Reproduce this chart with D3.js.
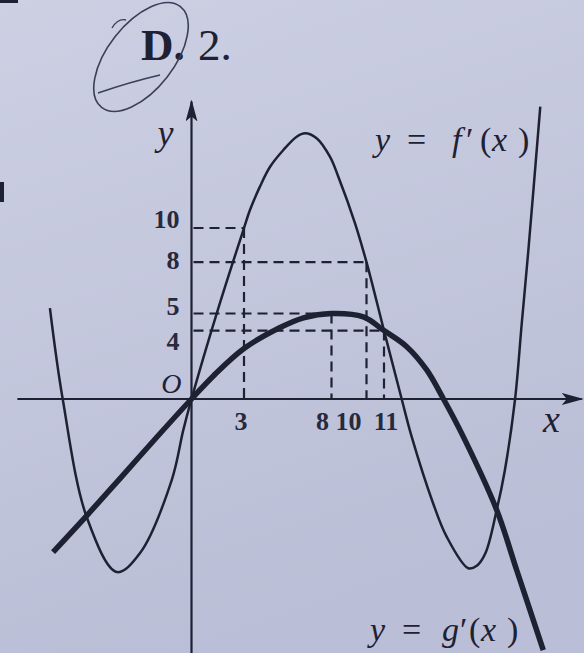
<!DOCTYPE html>
<html>
<head>
<meta charset="utf-8">
<script src="https://cdn.jsdelivr.net/npm/d3@7"></script>
<style>
  html, body { margin: 0; padding: 0; background: #c8cbdd; }
  svg { display: block; }
</style>
</head>
<body>
<div id="chart"></div>
<script>
// values (x, y in graph units)
var fPrimeX = [-8.09, -7.36, -5.97, -4.26, -2.94, -1.13, -0.47, 0, 1.5, 3, 3.34, 3.91, 4.49, 5.25, 6.01, 6.49, 7.15, 7.91, 8.39, 9.34, 10, 11, 12.01, 12.58, 13.8, 14.58, 15.82, 16.3, 16.8, 17.44, 17.91, 18.49, 18.87, 19.25, 19.93];
var fPrimeY = [5.32, 0, -6.96, -10.12, -9.01, -4.74, -1.82, 0, 5.2, 10, 11.05, 12.42, 13.58, 14.56, 15.34, 15.54, 15.25, 14.17, 13.0, 10.29, 8, 4, 0, -2.2, -6.08, -8.05, -9.9, -9.75, -9.0, -6.49, -4.15, 0, 4.4, 8.7, 17.1];

var gPrimeX = [-7.91, -5.97, -4, -2, 0, 1.25, 3, 5, 6.4, 8, 9.82, 11, 12.3, 13.44, 14.4, 15.53, 17.44, 18.58, 20.1];
var gPrimeY = [-8.95, -6.8, -4.55, -2.25, 0, 1.35, 2.95, 4.15, 4.75, 5, 4.8, 4, 3.06, 1.7, 0, -2.2, -6.49, -10, -14.68];

// dashed guides: point on the curves projected to both axes
var guideX = [3, 10, 8, 11];
var guideY = [10, 8, 5, 4];

var yTickLabels = ["10", "8", "5", "4"];
var yTickValues = [10, 8, 5, 4];
var xTickLabels = ["3", "8", "10", "11"];
var xTickValues = [3, 8, 10, 11];

var width = 584, height = 653;
var ink = "#1e2132";

var svg = d3.select("#chart").append("svg")
    .attr("width", width)
    .attr("height", height);

// paper background, a bit lighter on top like the photo
var defs = svg.append("defs");
var grad = defs.append("linearGradient")
    .attr("id", "paper").attr("x1", 0).attr("y1", 0).attr("x2", 0.3).attr("y2", 1);
grad.append("stop").attr("offset", "0%").attr("stop-color", "#cdd0e3");
grad.append("stop").attr("offset", "100%").attr("stop-color", "#babed6");
svg.append("rect").attr("width", width).attr("height", height).attr("fill", "url(#paper)");

// scales: 17.5 px per unit across, 17.1 px per unit up
var x = d3.scaleLinear().domain([-10, 22]).range([16.5, 576.5]);
var y = d3.scaleLinear().domain([-15, 20]).range([655.5, 57]);

// arrow markers
defs.append("marker")
    .attr("id", "arrow")
    .attr("viewBox", "0 0 22 12")
    .attr("refX", 20).attr("refY", 6)
    .attr("markerWidth", 22).attr("markerHeight", 12)
    .attr("markerUnits", "userSpaceOnUse")
    .attr("orient", "auto")
    .append("path")
    .attr("d", "M0,0 L22,6 L0,12 L5,6 Z")
    .attr("fill", ink);

// x axis and y axis
svg.append("line")
    .attr("x1", x(-9.95)).attr("y1", y(0))
    .attr("x2", x(22.3)).attr("y2", y(0))
    .attr("stroke", ink).attr("stroke-width", 2.2)
    .attr("marker-end", "url(#arrow)");

svg.append("line")
    .attr("x1", x(0)).attr("y1", y(-15.5))
    .attr("x2", x(0)).attr("y2", y(17.4))
    .attr("stroke", ink).attr("stroke-width", 2.2)
    .attr("marker-end", "url(#arrow)");

// dashed guides
var guides = svg.append("g")
    .attr("stroke", ink)
    .attr("stroke-width", 2.2)
    .attr("stroke-dasharray", "10,6")
    .attr("fill", "none");

guideX.forEach(function(gx, i) {
    var gy = guideY[i];
    guides.append("line")
        .attr("x1", x(0) + 2).attr("y1", y(gy))
        .attr("x2", x(gx)).attr("y2", y(gy));
    guides.append("line")
        .attr("x1", x(gx)).attr("y1", y(gy))
        .attr("x2", x(gx)).attr("y2", y(0));
});

// curves
var line = d3.line()
    .x(function(d) { return x(d[0]); })
    .y(function(d) { return y(d[1]); })
    .curve(d3.curveCatmullRom.alpha(0.5));

var fData = fPrimeX.map(function(v, i) { return [v, fPrimeY[i]]; });
var gData = gPrimeX.map(function(v, i) { return [v, gPrimeY[i]]; });

svg.append("path")
    .datum(fData)
    .attr("d", line)
    .attr("fill", "none")
    .attr("stroke", ink)
    .attr("stroke-width", 2.5);

svg.append("path")
    .datum(gData)
    .attr("d", line)
    .attr("fill", "none")
    .attr("stroke", ink)
    .attr("stroke-width", 5.5)
    .attr("stroke-linecap", "butt");

// tick labels (shifted a little off the dashed lines, as printed)
var serif = "'Liberation Serif', 'DejaVu Serif', serif";
var yLabelShift = [-9, -2, -8, 10];
svg.selectAll(".ytick")
    .data(yTickValues)
    .enter().append("text")
    .attr("class", "ytick")
    .attr("x", x(0) - 12)
    .attr("y", function(d, i) { return y(d) + yLabelShift[i]; })
    .attr("dy", "0.35em")
    .attr("text-anchor", "end")
    .style("font-family", serif)
    .style("font-weight", "bold")
    .style("font-size", "26px")
    .style("fill", "#262a3c")
    .text(function(d, i) { return yTickLabels[i]; });

var xLabelShift = [-3, -9, -18, 2];
svg.selectAll(".xtick")
    .data(xTickValues)
    .enter().append("text")
    .attr("class", "xtick")
    .attr("x", function(d, i) { return x(d) + xLabelShift[i]; })
    .attr("y", y(0) + 31)
    .attr("text-anchor", "middle")
    .style("font-family", serif)
    .style("font-weight", "bold")
    .style("font-size", "26px")
    .style("fill", "#262a3c")
    .text(function(d, i) { return xTickLabels[i]; });

// origin and axis names
svg.append("text")
    .attr("x", x(0) - 10).attr("y", y(0) - 6)
    .attr("text-anchor", "end")
    .style("font-family", serif).style("font-style", "italic")
    .style("font-size", "28px").style("fill", ink)
    .text("O");

svg.append("text")
    .attr("x", x(0) - 18).attr("y", y(0) - 254)
    .attr("text-anchor", "end")
    .style("font-family", serif).style("font-style", "italic")
    .style("font-size", "36px").style("fill", ink)
    .text("y");

svg.append("text")
    .attr("x", 543).attr("y", y(0) + 33)
    .style("font-family", serif).style("font-style", "italic")
    .style("font-size", "38px").style("fill", ink)
    .text("x");

// curve names, glyphs placed where the printed ones sit
function curveLabel(parts, left, baseline) {
    var t = svg.append("text")
        .attr("y", baseline)
        .style("font-family", serif)
        .style("font-size", "34px")
        .style("fill", ink);
    parts.forEach(function(p) {
        t.append("tspan")
            .attr("x", left + p[1])
            .style("font-style", p[2] ? "italic" : "normal")
            .text(p[0]);
    });
}

curveLabel([["y", 0, 1], ["=", 32, 0], ["f", 77, 1], ["\u2032", 91, 0], ["(", 105, 0], ["x", 117, 1], [")", 143, 0]], 375, 151);
curveLabel([["y", 0, 1], ["=", 32, 0], ["g", 72, 1], ["\u2032", 90, 0], ["(", 99, 0], ["x", 111, 1], [")", 137, 0]], 370, 641);

// answer header: "D. 2." with the pen circle around D
svg.append("text")
    .attr("x", 141).attr("y", 60)
    .style("font-family", serif).style("font-weight", "bold")
    .style("font-size", "45px").style("fill", ink)
    .text("D.");

svg.append("text")
    .attr("x", 198).attr("y", 60)
    .style("font-family", serif)
    .style("font-size", "45px").style("fill", ink)
    .text("2.");

var pen = "#3b3f58";
svg.append("ellipse")
    .attr("cx", 141).attr("cy", 57)
    .attr("rx", 64).attr("ry", 33)
    .attr("transform", "rotate(-52 141 57)")
    .attr("fill", "none")
    .attr("stroke", pen)
    .attr("stroke-width", 1.6);

svg.append("path")
    .attr("d", "M98,93 Q130,82 160,75")
    .attr("fill", "none").attr("stroke", pen).attr("stroke-width", 1.6);

svg.append("path")
    .attr("d", "M112,28 Q118,18 126,20")
    .attr("fill", "none").attr("stroke", pen).attr("stroke-width", 1.4);

// bits of the neighbouring exercise at the page edge
svg.append("rect").attr("x", 0).attr("y", 182).attr("width", 4).attr("height", 20).attr("fill", ink);
svg.append("rect").attr("x", 0).attr("y", 0).attr("width", 18).attr("height", 3).attr("fill", ink);
</script>
</body>
</html>
